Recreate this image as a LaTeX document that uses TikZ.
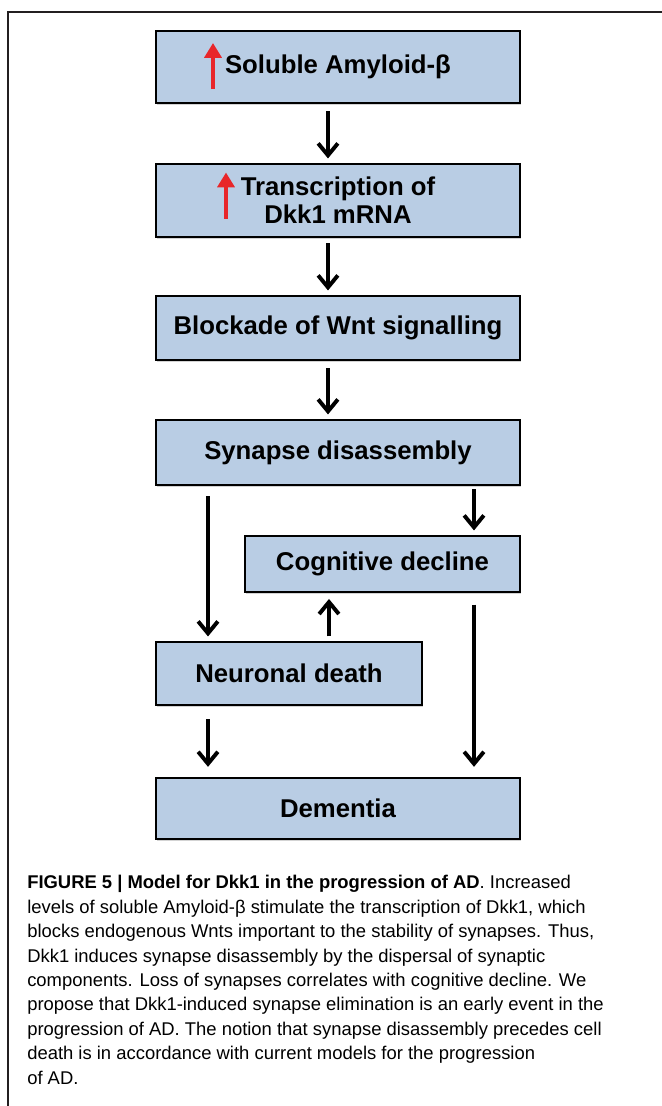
\documentclass[tikz,border=0pt]{standalone}
\usepackage{fontspec}
\setmainfont{Liberation Sans}
\usepackage{xcolor}
\usetikzlibrary{arrows.meta,shadows}

\definecolor{boxblue}{RGB}{185,205,228}
\definecolor{uparrowred}{RGB}{232,38,42}
\definecolor{framegray}{RGB}{35,31,32}

\tikzset{
  stage/.style={draw=black, line width=1.9pt, fill=boxblue, align=center,
    minimum width=9.1cm, inner sep=0pt,
    font=\bfseries\fontsize{18.3pt}{20pt}\selectfont,
    drop shadow={shadow xshift=0.8pt, shadow yshift=-1.5pt, opacity=0.35}},
  arr/.style={line width=2.8pt, -{Straight Barb[length=8.5pt,width=14pt]},
    shorten <=5pt, shorten >=3pt},
  rise/.style={uparrowred, line width=3pt, -{Triangle[length=10.5pt,width=12pt]}},
  caption/.style={anchor=north west, align=left, inner sep=0pt,
    font=\fontsize{13.1pt}{17.4pt}\selectfont}
}

\begin{document}
\begin{tikzpicture}[x=0.025cm, y=-0.025cm]
  \useasboundingbox (0,0) rectangle (662,1106);
  \draw[framegray, line width=1.5pt] (8,1106) -- (8,12) -- (662,12);

  % flow boxes
  \node[stage, minimum height=1.8cm] (sab) at (338,67) {Soluble Amyloid-β};
  \node[stage, minimum height=1.825cm] (tdk) at (338,200.5) {Transcription of\\Dkk1 mRNA};
  \node[stage, minimum height=1.6cm] (bws) at (338,328) {Blockade of Wnt signalling};
  \node[stage, minimum height=1.625cm] (syn) at (338,452.5) {Synapse disassembly};
  \node[stage, minimum width=6.875cm, minimum height=1.4cm] (cog) at (382.5,564) {Cognitive decline};
  \node[stage, minimum width=6.65cm, minimum height=1.575cm] (neu) at (289,673.5) {Neuronal death};
  \node[stage, minimum height=1.525cm] (dem) at (338,808.5) {Dementia};

  % red "increase" arrows
  \draw[rise] ([shift={(-125,22)}]sab.center) -- ([shift={(-125,-24)}]sab.center);
  \draw[rise] ([shift={(-112,18)}]tdk.center) -- ([shift={(-112,-28)}]tdk.center);

  % arrow columns
  \coordinate (mid) at (328,0);
  \coordinate (lft) at (208,0);
  \coordinate (rgt) at (474,0);
  \coordinate (upc) at (329,0);

  \draw[arr] (sab.south -| mid) -- (tdk.north -| mid);
  \draw[arr, shorten <=3.5pt] (tdk.south -| mid) -- (bws.north -| mid);
  \draw[arr] (bws.south -| mid) -- (syn.north -| mid);
  \draw[arr, shorten <=7pt] (syn.south -| lft) -- (neu.north -| lft);
  \draw[arr, shorten <=2pt] (syn.south -| rgt) -- (cog.north -| rgt);
  \draw[arr, shorten <=3pt, shorten >=4pt] (neu.north -| upc) -- (cog.south -| upc);
  \draw[arr, shorten <=9pt, shorten >=7pt] (neu.south -| lft) -- (dem.north -| lft);
  \draw[arr, shorten <=8pt, shorten >=7pt] (cog.south -| rgt) -- (dem.north -| rgt);

  % caption
  \node[caption] (cap) at (27,875) {\textbf{FIGURE 5 | Model for Dkk1 in the progression of AD}. Increased\\
levels of soluble Amyloid-β stimulate the transcription of Dkk1, which\\
blocks endogenous Wnts important to the stability of synapses. Thus,\\
Dkk1 induces synapse disassembly by the dispersal of synaptic\\
components. Loss of synapses correlates with cognitive decline. We\\
propose that Dkk1-induced synapse elimination is an early event in the\\
progression of AD. The notion that synapse disassembly precedes cell\\
death is in accordance with current models for the progression\\
of AD.};
\end{tikzpicture}
\end{document}
